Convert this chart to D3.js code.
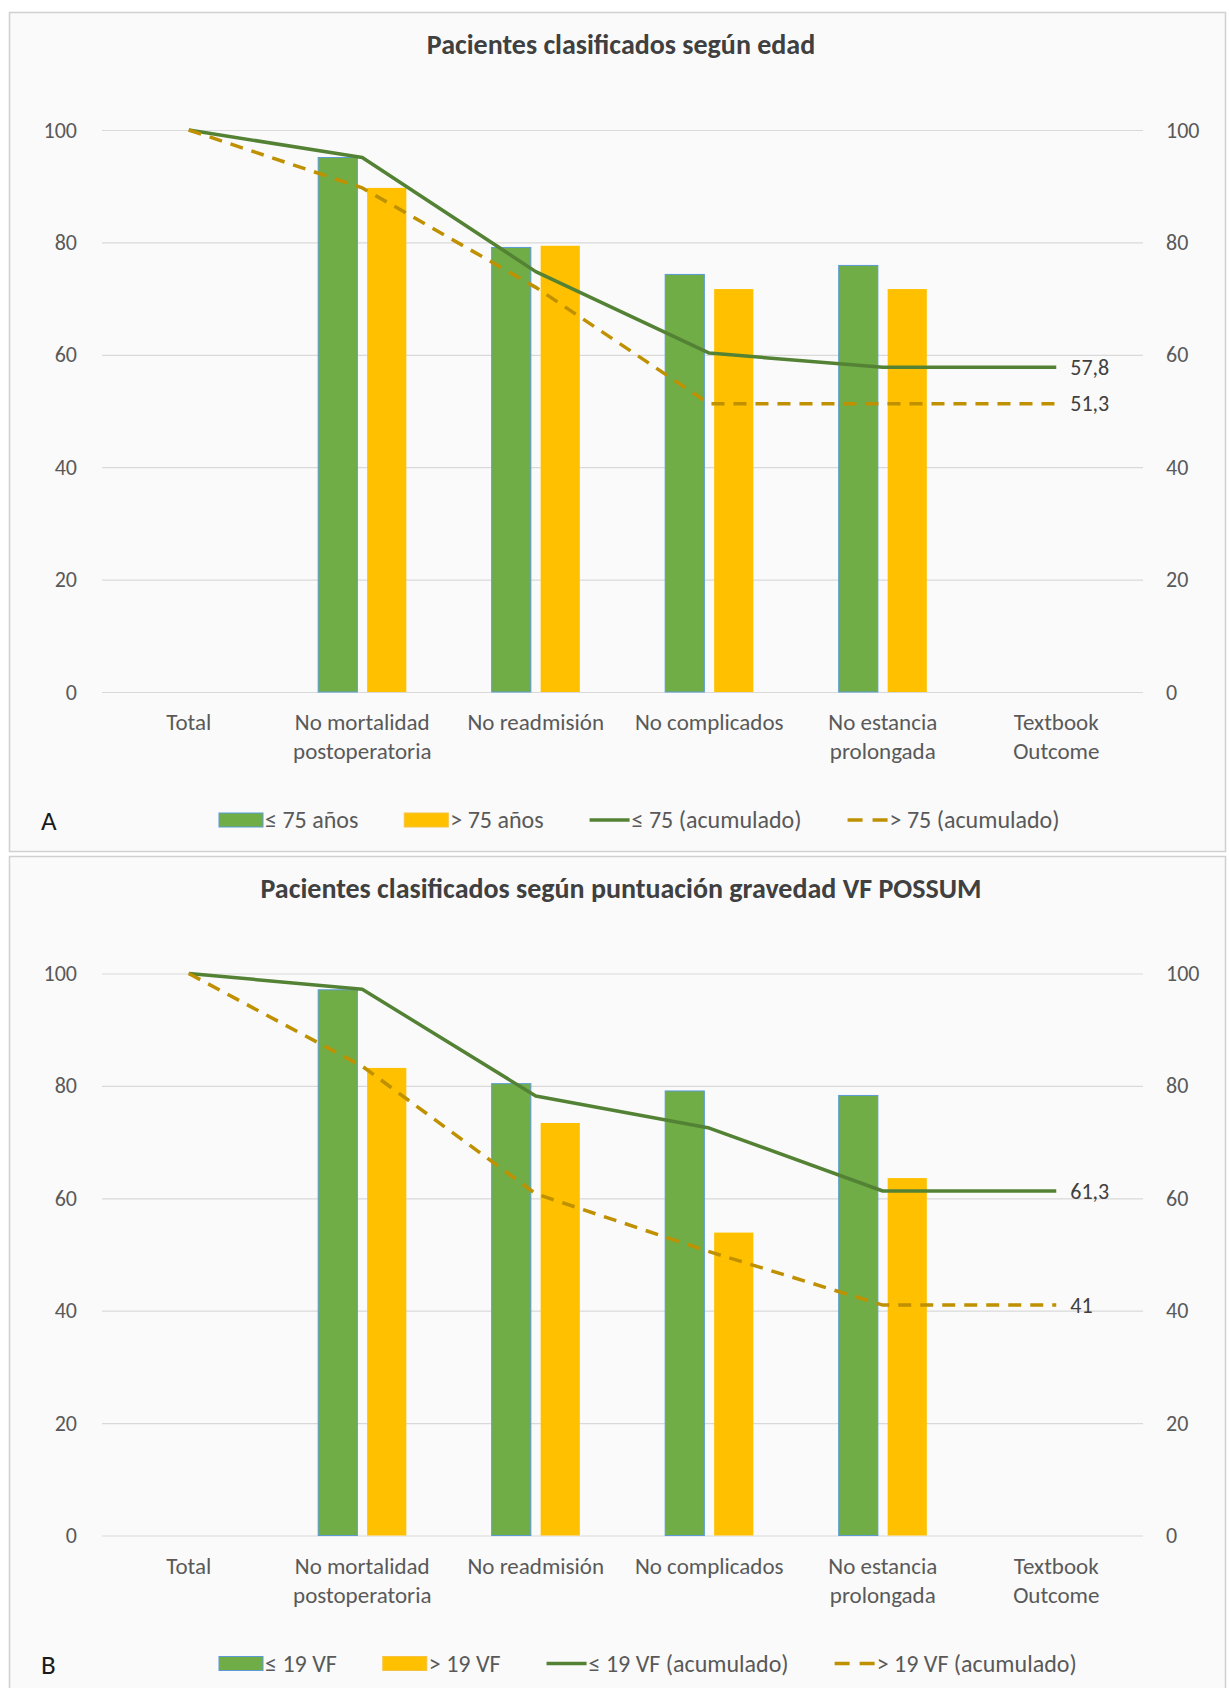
<!DOCTYPE html>
<html>
<head>
<meta charset="utf-8">
<script src="https://cdn.jsdelivr.net/npm/d3@7"></script>
<style>
  html, body { margin: 0; padding: 0; background: #ffffff; }
  svg { display: block; }
  text { font-family: Carlito, Calibri, Lato, "Open Sans", sans-serif; }
</style>
</head>
<body>
<svg id="chart" width="1229" height="1688"></svg>
<script>
// ---------- DATA ----------
const categories = ["Total", "No mortalidad postoperatoria", "No readmisión", "No complicados", "No estancia prolongada", "Textbook Outcome"];
const categoryLines = [["Total"], ["No mortalidad", "postoperatoria"], ["No readmisión"], ["No complicados"], ["No estancia", "prolongada"], ["Textbook", "Outcome"]];
const yTicks = [0, 20, 40, 60, 80, 100];

// Panel A: según edad
const titleA = "Pacientes clasificados según edad";
const ageLe75 = [null, 95.1, 79.1, 74.3, 75.9, null];
const ageGt75 = [null, 89.7, 79.4, 71.7, 71.7, null];
const ageLe75Cum = [100, 95.1, 74.8, 60.3, 57.8, 57.8];
const ageGt75Cum = [100, 89.7, 72.0, 51.3, 51.3, 51.3];
const legendA = ["≤ 75 años", "> 75 años", "≤ 75 (acumulado)", "> 75 (acumulado)"];

// Panel B: según VF POSSUM
const titleB = "Pacientes clasificados según puntuación gravedad VF POSSUM";
const vfLe19 = [null, 97.1, 80.4, 79.1, 78.3, null];
const vfGt19 = [null, 83.2, 73.4, 53.9, 63.6, null];
const vfLe19Cum = [100, 97.2, 78.2, 72.5, 61.3, 61.3];
const vfGt19Cum = [100, 83.5, 60.8, 50.5, 41, 41];
const legendB = ["≤ 19 VF", "> 19 VF", "≤ 19 VF (acumulado)", "> 19 VF (acumulado)"];

// ---------- STYLE ----------
const C = {
  green: "#70ad47", greenEdge: "#5b9bd5", yellow: "#ffc000",
  solid: "#548235", dashed: "#bf9000",
  grid: "#d9d9d9", text: "#595959", title: "#404040"
};
const FS = { tick: 22, cat: 23, legend: 24, title: 28, end: 22, letter: 27 };

const svg = d3.select("#chart");

function drawPanel(p) {
  const off = p.off;
  const g = svg.append("g");
  // panel frame
  g.append("rect").attr("x", 9.5).attr("y", p.top + 0.5).attr("width", 1216).attr("height", p.height)
    .attr("fill", "#fafafa").attr("stroke", "#d0d0d0").attr("stroke-width", 1.5);

  const x = d3.scaleBand().domain(categories).range([102, 1143]).padding(0);
  const y = d3.scaleLinear().domain([0, 100]).range([692 + off, 130 + off]);
  const bw = x.bandwidth();
  const sub = d3.scaleBand().domain(["a", "b"]).range([-bw * 0.254, bw * 0.254]).paddingInner(0.2);

  // title
  g.append("text").attr("x", 621).attr("y", 54 + off).attr("text-anchor", "middle")
    .attr("font-size", FS.title).attr("font-weight", "bold").attr("fill", C.title).text(p.title);

  // gridlines
  g.append("g").selectAll("line").data(yTicks).join("line")
    .attr("x1", 102).attr("x2", 1143)
    .attr("y1", d => y(d) + 0.5).attr("y2", d => y(d) + 0.5)
    .attr("stroke", C.grid).attr("stroke-width", 1.2);

  // left axis
  const left = g.append("g").attr("transform", "translate(102,0)")
    .call(d3.axisLeft(y).tickValues(yTicks).tickSize(0).tickPadding(25));
  left.select(".domain").remove();
  left.selectAll("text").attr("font-size", FS.tick).attr("fill", C.text).attr("font-family", null);
  // right axis
  const right = g.append("g").attr("transform", "translate(1143,0)")
    .call(d3.axisRight(y).tickValues(yTicks).tickSize(0).tickPadding(23));
  right.select(".domain").remove();
  right.selectAll("text").attr("font-size", FS.tick).attr("fill", C.text).attr("font-family", null);

  // category labels
  const cl = g.append("g");
  categories.forEach((c, i) => {
    const t = cl.append("text").attr("x", x(c) + bw / 2).attr("y", 730 + off)
      .attr("text-anchor", "middle").attr("font-size", FS.cat).attr("fill", C.text);
    categoryLines[i].forEach((ln, j) => {
      t.append("tspan").attr("x", x(c) + bw / 2).attr("dy", j === 0 ? 0 : 29).text(ln);
    });
  });

  // bars
  const series = [{ key: "a", vals: p.barA, fill: C.green, stroke: C.greenEdge },
                  { key: "b", vals: p.barB, fill: C.yellow, stroke: "none" }];
  series.forEach(s => {
    g.append("g").selectAll("rect")
      .data(categories.map((c, i) => ({ c, v: s.vals[i] })).filter(d => d.v != null))
      .join("rect")
      .attr("x", d => x(d.c) + bw / 2 + sub(s.key))
      .attr("width", sub.bandwidth())
      .attr("y", d => y(d.v))
      .attr("height", d => y(0) - y(d.v))
      .attr("fill", s.fill)
      .attr("stroke", s.stroke).attr("stroke-width", 1);
  });

  // lines
  const line = d3.line().x((d, i) => x(categories[i]) + bw / 2).y(d => y(d));
  g.append("path").datum(p.cumA).attr("d", line).attr("fill", "none")
    .attr("stroke", C.solid).attr("stroke-width", 3.5).attr("stroke-linejoin", "round");
  g.append("path").datum(p.cumB).attr("d", line).attr("fill", "none")
    .attr("stroke", C.dashed).attr("stroke-width", 3.5).attr("stroke-dasharray", "13,9");

  // end labels
  const lastX = x(categories[categories.length - 1]) + bw / 2;
  [p.cumA, p.cumB].forEach(arr => {
    const v = arr[arr.length - 1];
    g.append("text").attr("x", lastX + 14).attr("y", y(v)).attr("dy", "0.35em")
      .attr("font-size", FS.end).attr("fill", C.title).text(String(v).replace(".", ","));
  });

  // panel letter
  g.append("text").attr("x", 41).attr("y", 830 + off).attr("font-size", FS.letter)
    .attr("fill", "#1a1a1a").text(p.letter);

  // legend
  const lg = g.append("g").attr("transform", `translate(0,${820 + off})`);
  let cx = 219;
  p.legend.forEach((lab, i) => {
    if (i < 2) {
      lg.append("rect").attr("x", cx).attr("y", -7).attr("width", 44).attr("height", 14)
        .attr("fill", i === 0 ? C.green : C.yellow)
        .attr("stroke", i === 0 ? C.greenEdge : "#f5c242").attr("stroke-width", 1);
      cx += 46;
    } else {
      lg.append("line").attr("x1", cx).attr("x2", cx + 40).attr("y1", 0).attr("y2", 0)
        .attr("stroke", i === 2 ? C.solid : C.dashed).attr("stroke-width", 3.5)
        .attr("stroke-dasharray", i === 2 ? null : "15,10");
      cx += 42;
    }
    const t = lg.append("text").attr("x", cx).attr("y", 0).attr("dy", "0.35em")
      .attr("font-size", FS.legend).attr("fill", C.text).text(lab);
    cx += t.node().getComputedTextLength() + 46;
  });
}

drawPanel({ off: 0, top: 12, height: 839, title: titleA, letter: "A",
  barA: ageLe75, barB: ageGt75, cumA: ageLe75Cum, cumB: ageGt75Cum, legend: legendA });
drawPanel({ off: 843.5, top: 856, height: 860, title: titleB, letter: "B",
  barA: vfLe19, barB: vfGt19, cumA: vfLe19Cum, cumB: vfGt19Cum, legend: legendB });
</script>
</body>
</html>
